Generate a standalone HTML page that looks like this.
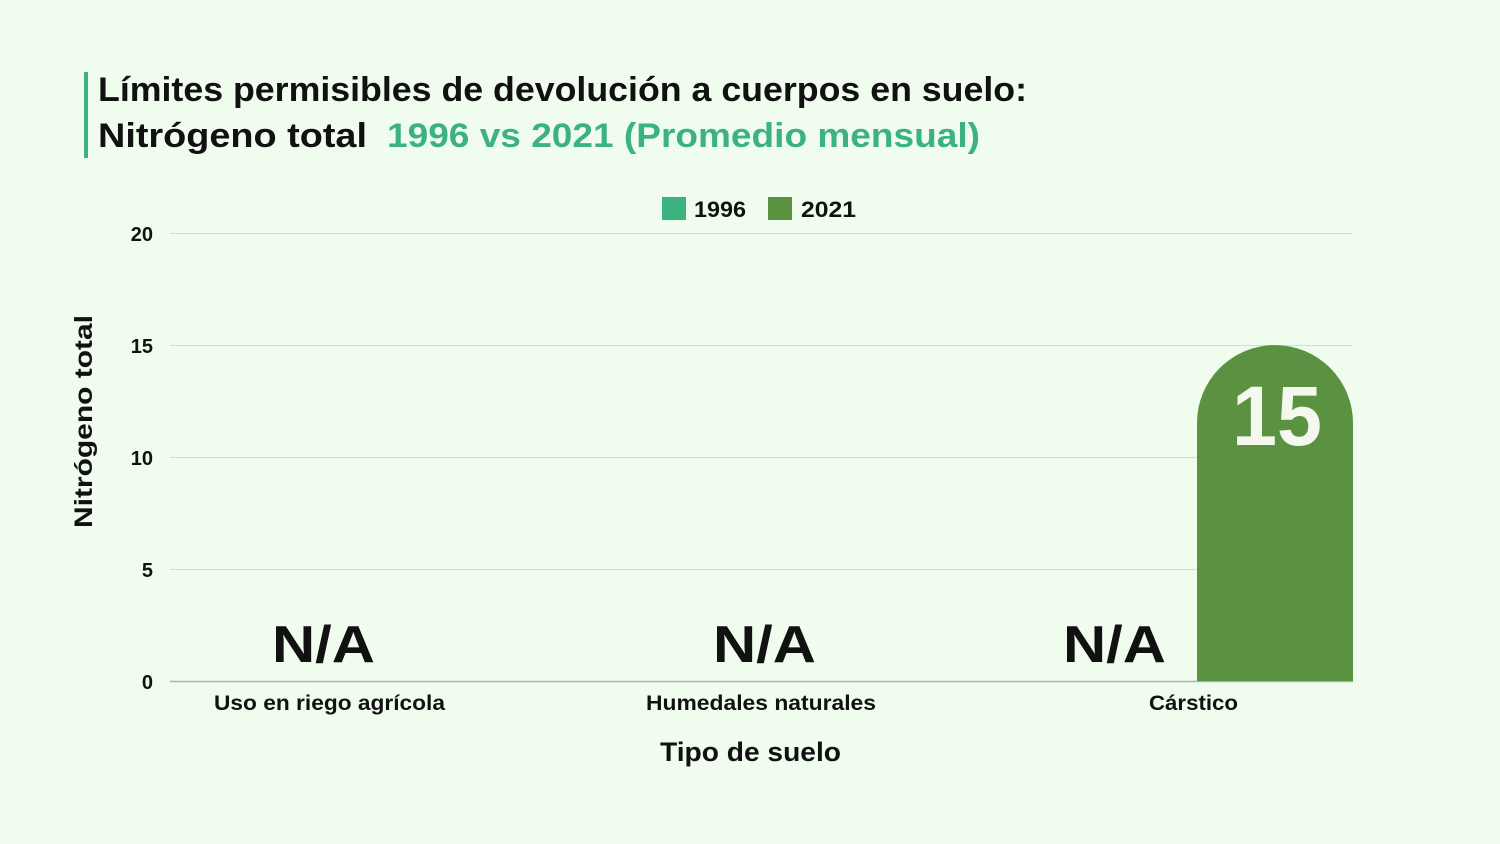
<!DOCTYPE html>
<html><head><meta charset="utf-8"><style>
html,body{margin:0;padding:0;background:#effcee;}
svg{display:block;font-family:"Liberation Sans",sans-serif;font-weight:bold;}
</style></head><body>
<svg width="1500" height="844" viewBox="0 0 1500 844" xmlns="http://www.w3.org/2000/svg">
<rect width="1500" height="844" fill="#effcee"/>
<rect x="84" y="72" width="4" height="86" fill="#3cb37f"/>
<text x="98" y="101" font-size="34" fill="#111" textLength="929" lengthAdjust="spacingAndGlyphs">Límites permisibles de devolución a cuerpos en suelo:</text>
<text x="98" y="147" font-size="34" fill="#111" textLength="269" lengthAdjust="spacingAndGlyphs">Nitrógeno total</text>
<text x="387" y="147" font-size="34" fill="#3cb37f" textLength="593" lengthAdjust="spacingAndGlyphs">1996 vs 2021 (Promedio mensual)</text>
<rect x="662" y="197" width="24" height="23" fill="#3cb37f"/>
<text x="694" y="217" font-size="22" fill="#111" textLength="52" lengthAdjust="spacingAndGlyphs">1996</text>
<rect x="768" y="197" width="24" height="23" fill="#5a9241"/>
<text x="801" y="217" font-size="22" fill="#111" textLength="55" lengthAdjust="spacingAndGlyphs">2021</text>
<g stroke="#cfdfd2" stroke-width="1">
<line x1="170" y1="233.5" x2="1353" y2="233.5"/>
<line x1="170" y1="345.5" x2="1353" y2="345.5"/>
<line x1="170" y1="457.5" x2="1353" y2="457.5"/>
<line x1="170" y1="569.5" x2="1353" y2="569.5"/>
</g>
<line x1="170" y1="681.5" x2="1353" y2="681.5" stroke="#a8b8ac" stroke-width="1.5"/>
<g font-size="20" fill="#111" text-anchor="end">
<text x="153" y="241">20</text>
<text x="153" y="353">15</text>
<text x="153" y="465">10</text>
<text x="153" y="577">5</text>
<text x="153" y="689">0</text>
</g>
<text transform="translate(92,528) rotate(-90)" font-size="25" fill="#111" textLength="213" lengthAdjust="spacingAndGlyphs">Nitrógeno total</text>
<path d="M1197,681 L1197,423 A78,78 0 0 1 1353,423 L1353,681 Z" fill="#5a9241"/>
<text x="1232" y="445" font-size="84" fill="#f4f8ee" textLength="90" lengthAdjust="spacingAndGlyphs">15</text>
<g font-size="52" fill="#111">
<text x="272" y="662" textLength="103" lengthAdjust="spacingAndGlyphs">N/A</text>
<text x="713" y="662" textLength="103" lengthAdjust="spacingAndGlyphs">N/A</text>
<text x="1063" y="662" textLength="103" lengthAdjust="spacingAndGlyphs">N/A</text>
</g>
<g font-size="21" fill="#111">
<text x="214" y="710" textLength="231" lengthAdjust="spacingAndGlyphs">Uso en riego agrícola</text>
<text x="646" y="710" textLength="230" lengthAdjust="spacingAndGlyphs">Humedales naturales</text>
<text x="1149" y="710" textLength="89" lengthAdjust="spacingAndGlyphs">Cárstico</text>
</g>
<text x="660" y="761" font-size="27" fill="#111" textLength="181" lengthAdjust="spacingAndGlyphs">Tipo de suelo</text>
</svg>
</body></html>
